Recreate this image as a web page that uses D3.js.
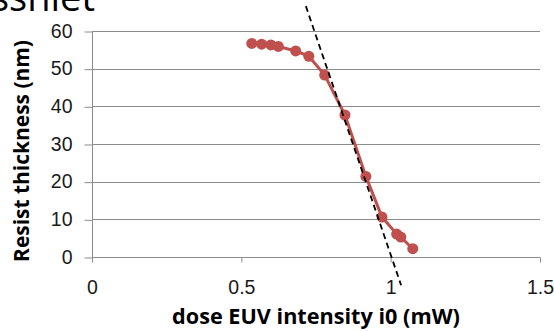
<!DOCTYPE html>
<html>
<head>
<meta charset="utf-8">
<script src="https://cdn.jsdelivr.net/npm/d3@7"></script>
<style>
  body { margin: 0; background: #fff; }
  svg { display: block; font-family: "Open Sans", "Liberation Sans", sans-serif; }
</style>
</head>
<body>
<svg id="chart" width="554" height="331"></svg>
<script>
// data
const dose = [0.535, 0.568, 0.599, 0.624, 0.682, 0.726, 0.779, 0.847, 0.917, 0.971, 1.020, 1.034, 1.074];
const thickness = [56.7, 56.5, 56.3, 55.9, 54.7, 53.3, 48.3, 37.7, 21.4, 10.6, 6.1, 5.3, 2.2];
// dashed fit line end points
const fitX = [0.716, 1.035];
const fitY = [66.6, -7.5];
const xTicks = [0, 0.5, 1, 1.5];
const yTicks = [0, 10, 20, 30, 40, 50, 60];

const svg = d3.select('#chart');
const width = +svg.attr('width');
const height = +svg.attr('height');

const margin = { top: 31, right: 14, bottom: 74, left: 92 };
const innerWidth = width - margin.left - margin.right;
const innerHeight = height - margin.top - margin.bottom;

const xScale = d3.scaleLinear().domain([0, 1.5]).range([0, innerWidth]);
const yScale = d3.scaleLinear().domain([0, 60]).range([innerHeight, 0]);

// shrink/grow a text to a given width
const fitText = (sel, target) => {
  const w = sel.node().getComputedTextLength();
  const fs = parseFloat(sel.style('font-size'));
  sel.style('font-size', (fs * target / w) + 'px');
};

// clipped heading text at very top
svg.append('text')
    .attr('x', -9)
    .attr('y', 11)
    .style('font-size', '38px')
    .style('fill', '#000')
    .text('sshiet');

const g = svg.append('g')
    .attr('transform', 'translate(' + margin.left + ',' + margin.top + ')');

// gridlines
g.append('g').selectAll('line')
    .data(yTicks)
    .enter()
    .append('line')
    .attr('x1', 0)
    .attr('x2', innerWidth)
    .attr('y1', d => Math.round(yScale(d)) + 0.5)
    .attr('y2', d => Math.round(yScale(d)) + 0.5)
    .style('stroke', '#8c8c8c')
    .style('stroke-width', 1);

// y axis
const yAxis = g.append('g')
    .attr('transform', 'translate(0.5,0)')
    .call(d3.axisLeft(yScale).tickValues(yTicks).tickSize(8).tickPadding(12));
yAxis.select('.domain').attr('d', 'M0,' + (innerHeight + 0.5) + 'V0.5').style('stroke', '#8c8c8c');
yAxis.selectAll('.tick line').style('stroke', '#8c8c8c')
    .attr('transform', 'translate(0,0.5)');
yAxis.selectAll('text')
    .style('font-size', '19.5px')
    .style('fill', '#1a1a1a');

// x axis
const xAxis = g.append('g')
    .attr('transform', 'translate(0,' + (Math.round(innerHeight) + 0.5) + ')')
    .call(d3.axisBottom(xScale).tickValues(xTicks).tickFormat(d3.format('')).tickSize(5).tickPadding(18));
xAxis.select('.domain').remove();
xAxis.selectAll('.tick line').style('stroke', '#8c8c8c');
xAxis.selectAll('text')
    .style('font-size', '19.5px')
    .style('fill', '#1a1a1a');

// axis titles
const yTitle = svg.append('text')
    .attr('transform', 'rotate(-90)')
    .attr('x', -151)
    .attr('y', 29)
    .style('text-anchor', 'middle')
    .style('font-size', '18px')
    .style('font-weight', 'bold')
    .style('fill', '#000')
    .text('Resist thickness (nm)');
fitText(yTitle, 222);

const xTitle = svg.append('text')
    .attr('x', 316)
    .attr('y', 324)
    .style('text-anchor', 'middle')
    .style('font-size', '18px')
    .style('font-weight', 'bold')
    .style('fill', '#000')
    .text('dose EUV intensity i0 (mW)');
fitText(xTitle, 288);

// data series
const pts = dose.map((d, i) => ({ x: d, y: thickness[i] }));
const line = d3.line().x(d => xScale(d.x)).y(d => yScale(d.y));

g.append('path')
    .datum(pts)
    .attr('d', line)
    .style('fill', 'none')
    .style('stroke', '#c0504d')
    .style('stroke-width', 3)
    .style('stroke-linejoin', 'round');

g.selectAll('circle')
    .data(pts)
    .enter()
    .append('circle')
    .attr('cx', d => xScale(d.x))
    .attr('cy', d => yScale(d.y))
    .attr('r', 5.5)
    .style('fill', '#c0504d');

// dashed fit line (drawn outside the plot area)
g.append('line')
    .attr('x1', xScale(fitX[0]))
    .attr('y1', yScale(fitY[0]))
    .attr('x2', xScale(fitX[1]))
    .attr('y2', yScale(fitY[1]))
    .style('stroke', '#000')
    .style('stroke-width', 1.8)
    .style('stroke-dasharray', '6,4');
</script>
</body>
</html>
